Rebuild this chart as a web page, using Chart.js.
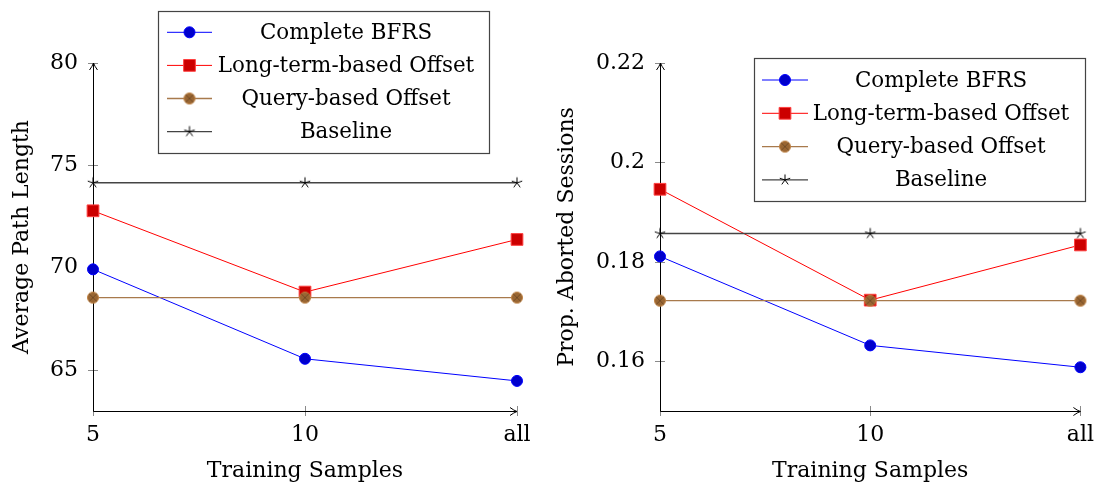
<!DOCTYPE html>
<html lang="en">
<head>
<meta charset="UTF-8">
<title>Training samples comparison</title>
<style>
  body { margin: 0; background: #fff; }
  #wrap { position: relative; width: 1105px; height: 488px; overflow: hidden; }
  #leftChart { position: absolute; left: 0; top: 0; }
  #rightChart { position: absolute; left: 550px; top: 0; }
</style>
</head>
<body>
<div id="wrap">
  <canvas id="leftChart" width="552" height="488"></canvas>
  <canvas id="rightChart" width="555" height="488"></canvas>
</div>
<script src="https://cdn.jsdelivr.net/npm/chart.js@4/dist/chart.umd.min.js"></script>
<script>
// data
const trainingSamples = ['5', '10', 'all'];
const seriesNames = ['Complete BFRS', 'Long-term-based Offset', 'Query-based Offset', 'Baseline'];

const pathCompleteBFRS = [69.92, 65.55, 64.47];
const pathLongTerm = [72.78, 68.81, 71.38];
const pathQueryBased = [68.54, 68.54, 68.54];
const pathBaseline = [74.15, 74.15, 74.15];
const pathTicks = [65, 70, 75, 80];

const abortCompleteBFRS = [0.1811, 0.1632, 0.1588];
const abortLongTerm = [0.1946, 0.1723, 0.1834];
const abortQueryBased = [0.1722, 0.1722, 0.1722];
const abortBaseline = [0.1857, 0.1857, 0.1857];
const abortTicks = [0.16, 0.18, 0.2, 0.22];

const FONT = { family: "'DejaVu Serif', serif", size: 22 };
const LEGEND_FONT = "21.4px 'DejaVu Serif', serif";

// marker images (pgfplots style)
function otimesMark() {
    const c = document.createElement('canvas');
    c.width = 14; c.height = 14;
    const g = c.getContext('2d');
    g.beginPath();
    g.arc(7, 7, 5.5, 0, Math.PI * 2);
    g.fillStyle = '#996633';
    g.fill();
    g.lineWidth = 1;
    g.strokeStyle = '#bf8040';
    g.stroke();
    g.beginPath();
    const d = 3.9;
    g.moveTo(7 - d, 7 - d); g.lineTo(7 + d, 7 + d);
    g.moveTo(7 + d, 7 - d); g.lineTo(7 - d, 7 + d);
    g.strokeStyle = '#6b4624';
    g.lineWidth = 0.8;
    g.stroke();
    return c;
}
function starMark() {
    const c = document.createElement('canvas');
    c.width = 14; c.height = 14;
    const g = c.getContext('2d');
    g.beginPath();
    for (let i = 0; i < 5; i++) {
        const a = -Math.PI / 2 + i * 2 * Math.PI / 5;
        g.moveTo(7, 7);
        g.lineTo(7 + 5.5 * Math.cos(a), 7 + 5.5 * Math.sin(a));
    }
    g.strokeStyle = '#000';
    g.lineWidth = 1;
    g.stroke();
    return c;
}
const otimes = otimesMark();
const star = starMark();

function makeDatasets(blue, red, brown, base) {
    return [
        { label: seriesNames[0], data: blue, borderColor: '#0000ff', backgroundColor: '#0000cc',
          borderWidth: 1, pointStyle: 'circle', pointRadius: 5.5, pointBorderColor: '#0000ff',
          pointBorderWidth: 1, order: 4 },
        { label: seriesNames[1], data: red, borderColor: '#ff0000', backgroundColor: '#cc0000',
          borderWidth: 1, pointStyle: 'rect', pointRadius: 8.3, pointBorderColor: '#ff4040',
          pointBorderWidth: 1, order: 3 },
        { label: seriesNames[2], data: brown, borderColor: '#a87a4c', backgroundColor: '#996633',
          borderWidth: 1.3, pointStyle: otimes, pointRadius: 6, order: 2 },
        { label: seriesNames[3], data: base, borderColor: '#444444', backgroundColor: '#000',
          borderWidth: 1.4, pointStyle: star, pointRadius: 6, order: 1 }
    ];
}

// axis arrows and ticks crossing the axis lines
const pgfAxes = {
    id: 'pgfAxes',
    beforeDatasetsDraw(chart) {
        const { ctx, chartArea: a, scales: { x, y } } = chart;
        ctx.save();
        ctx.strokeStyle = '#8a8a8a';
        ctx.lineWidth = 1;
        ctx.beginPath();
        y.ticks.forEach((t, i) => {
            const py = Math.round(y.getPixelForTick(i)) + 0.5;
            ctx.moveTo(a.left - 5, py); ctx.lineTo(a.left + 5, py);
        });
        x.ticks.forEach((t, i) => {
            const px = Math.round(x.getPixelForTick(i)) + 0.5;
            ctx.moveTo(px, a.bottom - 5); ctx.lineTo(px, a.bottom + 5);
        });
        ctx.stroke();
        // axis lines with arrows
        const lx = Math.round(a.left) + 0.5, by = Math.round(a.bottom) + 0.5;
        ctx.strokeStyle = '#000';
        ctx.beginPath();
        ctx.moveTo(lx, by); ctx.lineTo(lx, a.top);
        ctx.moveTo(lx, by); ctx.lineTo(a.right, by);
        ctx.stroke();
        ctx.beginPath();
        ctx.moveTo(lx - 4, a.top + 7); ctx.quadraticCurveTo(lx - 1, a.top + 3, lx, a.top);
        ctx.quadraticCurveTo(lx + 1, a.top + 3, lx + 4, a.top + 7);
        ctx.moveTo(a.right - 7, by - 4); ctx.quadraticCurveTo(a.right - 3, by - 1, a.right, by);
        ctx.quadraticCurveTo(a.right - 3, by + 1, a.right - 7, by + 4);
        ctx.stroke();
        ctx.restore();
    }
};

// legend box drawn inside the plot like pgfplots does
const pgfLegend = {
    id: 'pgfLegend',
    afterDraw(chart, args, opts) {
        const ctx = chart.ctx;
        const [bx, by, bw, bh] = opts.box;
        ctx.save();
        ctx.fillStyle = '#fff';
        ctx.fillRect(bx, by, bw, bh);
        ctx.strokeStyle = '#444';
        ctx.lineWidth = 1.2;
        ctx.strokeRect(bx + 0.5, by + 0.5, bw, bh);
        chart.data.datasets.forEach((ds, i) => {
            const ry = opts.firstRow + i * opts.rowGap;
            ctx.beginPath();
            ctx.strokeStyle = ds.borderColor;
            ctx.lineWidth = ds.borderWidth;
            ctx.moveTo(opts.lineX[0], ry); ctx.lineTo(opts.lineX[1], ry);
            ctx.stroke();
            const mx = (opts.lineX[0] + opts.lineX[1]) / 2;
            ctx.fillStyle = ds.backgroundColor;
            ctx.strokeStyle = ds.pointBorderColor || ds.borderColor;
            if (ds.pointStyle === 'circle' || ds.pointStyle === 'rect') {
                ctx.beginPath();
                if (ds.pointStyle === 'circle') ctx.arc(mx, ry, ds.pointRadius, 0, Math.PI * 2);
                else {
                    const s = ds.pointRadius * Math.SQRT1_2;
                    ctx.rect(mx - s, ry - s, 2 * s, 2 * s);
                }
                ctx.fill();
                ctx.lineWidth = ds.pointBorderWidth || 1;
                ctx.stroke();
            } else {
                Chart.helpers.drawPoint(ctx, { pointStyle: ds.pointStyle, radius: ds.pointRadius,
                    rotation: 0, borderWidth: 0 }, mx, ry);
            }
            ctx.fillStyle = '#000';
            ctx.font = LEGEND_FONT;
            ctx.textAlign = 'center';
            ctx.textBaseline = 'middle';
            ctx.fillText(ds.label, opts.textX, ry + 1);
        });
        ctx.restore();
    }
};

function buildChart(id, datasets, yMin, yMax, yTicks, yTitle, geom) {
    return new Chart(document.getElementById(id), {
        type: 'line',
        data: { labels: trainingSamples, datasets: datasets },
        options: {
            responsive: false,
            animation: false,
            layout: { padding: { top: 63, right: geom.rightPad, left: 0, bottom: 0 } },
            datasets: { line: { clip: false, tension: 0 } },
            plugins: {
                legend: { display: false },
                tooltip: { enabled: false },
                pgfLegend: geom.legend
            },
            scales: {
                x: {
                    type: 'category',
                    offset: false,
                    afterFit: s => { s.height = 77; },
                    grid: { display: false, drawTicks: false },
                    border: { display: false },
                    ticks: { color: '#000', font: FONT, padding: 11, maxRotation: 0 },
                    title: { display: true, text: 'Training Samples', color: '#000', font: FONT,
                             padding: { top: 0, bottom: 4 } }
                },
                y: {
                    min: yMin, max: yMax,
                    afterBuildTicks: s => { s.ticks = yTicks.map(v => ({ value: v })); },
                    afterFit: s => { s.width = geom.yWidth; },
                    grid: { display: false, drawTicks: false },
                    border: { display: false },
                    ticks: { color: '#000', font: FONT, padding: 15, callback: v => String(v) },
                    title: { display: true, text: yTitle, color: '#000', font: FONT,
                             padding: { top: geom.titlePad, bottom: 0 } }
                }
            }
        },
        plugins: [pgfAxes, pgfLegend]
    });
}

buildChart('leftChart',
    makeDatasets(pathCompleteBFRS, pathLongTerm, pathQueryBased, pathBaseline),
    63, 80, pathTicks, 'Average Path Length',
    { yWidth: 93, rightPad: 35, titlePad: 9,
      legend: { box: [158, 11, 331, 142], firstRow: 32.3, rowGap: 33.1, lineX: [167, 212], textX: 346 } });

buildChart('rightChart',
    makeDatasets(abortCompleteBFRS, abortLongTerm, abortQueryBased, abortBaseline),
    0.15, 0.22, abortTicks, 'Prop. Aborted Sessions',
    { yWidth: 110, rightPad: 21, titlePad: 4,
      legend: { box: [204, 58, 331, 143], firstRow: 80, rowGap: 33.3, lineX: [212, 258], textX: 391 } });
</script>
</body>
</html>
